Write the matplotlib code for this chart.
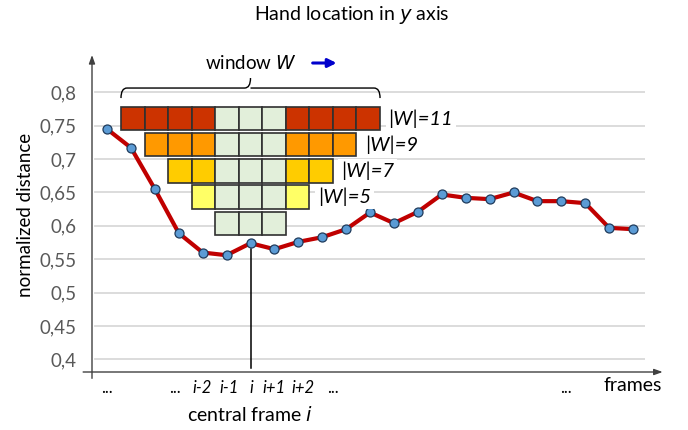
import matplotlib
matplotlib.use('Agg')
import matplotlib.pyplot as plt
import matplotlib.ticker as mticker
from matplotlib.patches import Rectangle, PathPatch
from matplotlib.path import Path

plt.rcParams['font.family'] = ['Lato', 'DejaVu Sans']

# hand y-location per frame
frames = list(range(23))
distance = [0.745, 0.717, 0.655, 0.589, 0.560, 0.556, 0.574, 0.565, 0.576,
            0.583, 0.595, 0.620, 0.604, 0.621, 0.647, 0.642, 0.640, 0.650,
            0.637, 0.637, 0.634, 0.597, 0.595]

yticks = [0.4, 0.45, 0.5, 0.55, 0.6, 0.65, 0.7, 0.75, 0.8]

# x tick labels under the axis
xtick_pos = [0, 2.84, 3.97, 5.1, 6.02, 6.98, 8.2, 9.45, 19.2]
xtick_labels = ['...', '...', 'i-2', 'i-1', 'i', 'i+1', 'i+2', '...', '...']

# window sizes, drawn around the central frame
center = 6
window_sizes = [11, 9, 7, 5, 3]
window_colors = ['#CC3300', '#FF9900', '#FFCC00', '#FFFF66', '#E2EFDA']
core_color = '#E2EFDA'


def main():
    fig = plt.figure(figsize=(6.88, 4.30), dpi=100)
    ax = fig.add_axes([92 / 688, 58 / 430, 553 / 688, 317 / 430])
    ax.set_xlim(-0.63, 22.5)
    ax.set_ylim(0.381, 0.856)

    for s in ax.spines.values():
        s.set_visible(False)

    # gridlines
    for v in yticks:
        ax.axhline(v, xmin=0.006, xmax=1, color='#D9D9D9', lw=1.3, zorder=0)

    ax.set_yticks(yticks)
    ax.yaxis.set_major_formatter(
        mticker.FuncFormatter(lambda v, p: '{:g}'.format(v).replace('.', ',')))
    ax.tick_params(axis='y', length=0, pad=11, labelsize=13.5, labelcolor='#595959')

    ax.set_xticks(xtick_pos, xtick_labels)
    ax.tick_params(axis='x', length=0, pad=6, labelsize=12, labelcolor='black')
    for t in ax.get_xticklabels():
        if t.get_text().startswith('i'):
            t.set_fontstyle('italic')

    # axis arrows
    ax.annotate('', xy=(0, 1.0), xytext=(0, -0.02), xycoords='axes fraction',
                arrowprops=dict(arrowstyle='-|>,head_length=0.5,head_width=0.18',
                                color='#404040', lw=1, shrinkA=0, shrinkB=0),
                annotation_clip=False)
    ax.annotate('', xy=(1.032, 0), xytext=(-0.016, 0), xycoords='axes fraction',
                arrowprops=dict(arrowstyle='-|>,head_length=0.5,head_width=0.18',
                                color='#404040', lw=1, shrinkA=0, shrinkB=0),
                annotation_clip=False)

    # central frame marker line
    ax.plot([center, center], [0.387, 0.566], color='black', lw=1.1,
            zorder=2, clip_on=False)

    # the series
    ax.plot(frames, distance, color='#C00000', lw=3.0, zorder=3,
            solid_joinstyle='round', solid_capstyle='round')
    ax.plot(frames, distance, ls='none', marker='o', ms=6.5,
            mfc='#5B9BD5', mec='#1F3B5C', mew=0.9, zorder=4)

    # sliding windows
    cell_w = 0.985
    row_h = 0.035
    top = 0.7785
    for k, (n, col) in enumerate(zip(window_sizes, window_colors)):
        y0 = top - k * 0.0393 - row_h
        half = n // 2
        for j in range(-half, half + 1):
            fc = core_color if abs(j) <= 1 else col
            ax.add_patch(Rectangle((center + j * cell_w - cell_w / 2, y0),
                                   cell_w, row_h, fc=fc, ec='#303030',
                                   lw=1.2, zorder=5))
        if n > 3:
            ax.text(center + half * cell_w + cell_w / 2 + 0.35, y0 + row_h / 2,
                    '|W|=%d' % n, fontsize=14.5, style='italic',
                    va='center', ha='left', zorder=6,
                    bbox=dict(fc='white', ec='none', pad=2))

    # brace over the largest window
    xl = center - 5.5 * cell_w
    xr = center + 5.5 * cell_w
    yb, ym, yt = 0.7915, 0.8065, 0.8215
    verts = [(xl, yb), (xl, ym), (xl + 0.25, ym),
             (center - 0.25, ym), (center, ym), (center, yt),
             (center, ym), (center + 0.25, ym),
             (xr - 0.25, ym), (xr, ym), (xr, yb)]
    codes = [Path.MOVETO, Path.CURVE3, Path.CURVE3,
             Path.LINETO, Path.CURVE3, Path.CURVE3,
             Path.MOVETO, Path.CURVE3, Path.LINETO, Path.CURVE3, Path.CURVE3]
    ax.add_patch(PathPatch(Path(verts, codes), fc='none', ec='black',
                           lw=1.0, zorder=5, clip_on=False))

    ax.text(center, 0.844, 'window $\\mathit{W}$', ha='center', va='center',
            fontsize=13.5)
    ax.annotate('', xy=(9.6, 0.844), xytext=(8.6, 0.844),
                arrowprops=dict(arrowstyle='-|>,head_length=0.5,head_width=0.25',
                                color='#0000CC', lw=2.2, shrinkA=0, shrinkB=0))

    # labels
    ax.text(22.0, 0.3615, 'frames', ha='center', va='center', fontsize=14,
            clip_on=False)
    ax.text(center, 0.3166, 'central frame $\\mathit{i}$', ha='center',
            va='center', fontsize=14, clip_on=False)
    fig.text(26 / 688, 0.5, 'normalized distance', rotation=90,
             ha='center', va='center', fontsize=13.5)
    fig.text(352 / 688, 1 - 15 / 430, 'Hand location in $\\mathit{y}$ axis',
             ha='center', va='center', fontsize=14)

    fig.savefig('out.png', dpi=100)


if __name__ == '__main__':
    main()
